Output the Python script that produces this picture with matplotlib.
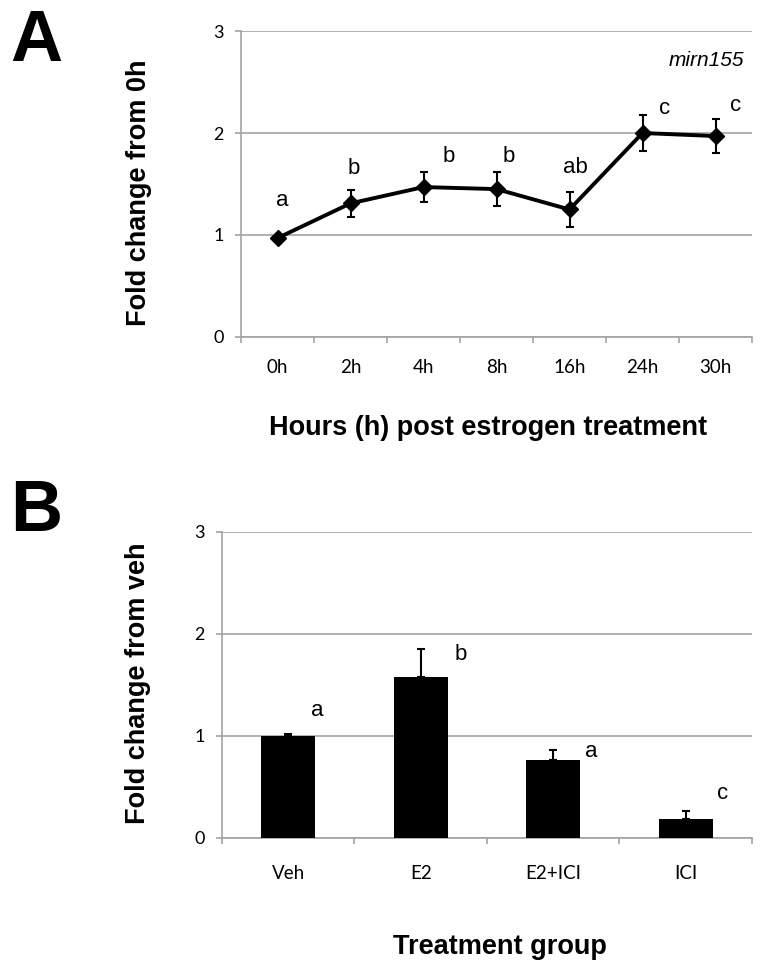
import numpy as np
import matplotlib
matplotlib.use("Agg")
import matplotlib.pyplot as plt

# panel A: time course
hours = ["0h", "2h", "4h", "8h", "16h", "24h", "30h"]
fold_a = [0.97, 1.31, 1.47, 1.45, 1.25, 2.00, 1.97]
err_a = [0.03, 0.13, 0.15, 0.17, 0.17, 0.18, 0.17]
sig_a = ["a", "b", "b", "b", "ab", "c", "c"]
sig_a_x = [0.06, 0.05, 0.35, 0.17, 0.08, 0.30, 0.27]
sig_a_y = [1.34, 1.65, 1.77, 1.77, 1.66, 2.24, 2.27]

# panel B: treatment groups
groups = ["Veh", "E2", "E2+ICI", "ICI"]
fold_b = [1.00, 1.58, 0.76, 0.19]
err_b = [0.02, 0.27, 0.10, 0.07]
sig_b = ["a", "b", "a", "c"]
sig_b_x = [0.22, 0.30, 0.29, 0.28]
sig_b_y = [1.25, 1.80, 0.85, 0.44]

grey = "#a3a3a3"
tick_font = "Lato"
bold_font = "Liberation Sans"

fig = plt.figure(figsize=(7.62, 9.72), dpi=100)


def style_axes(ax, labels, pad):
    n = len(labels)
    ax.set_xlim(-0.5, n - 0.5)
    ax.set_ylim(0, 3)
    ax.set_yticks([0, 1, 2, 3])
    ax.set_yticklabels(["0", "1", "2", "3"], fontfamily=tick_font, fontsize=13)
    ax.yaxis.grid(True, color=grey, linewidth=1.2)
    ax.set_axisbelow(True)
    ax.set_xticks(np.arange(n + 1) - 0.5)
    ax.set_xticklabels([""] * (n + 1))
    ax.set_xticks(np.arange(n), minor=True)
    ax.set_xticklabels(labels, minor=True, fontfamily=tick_font, fontsize=13.5)
    ax.tick_params(axis="x", which="minor", length=0, pad=pad)
    ax.tick_params(axis="both", which="major", length=4.5, color=grey, width=1.2)
    ax.tick_params(axis="y", pad=8)
    for side in ["top", "right"]:
        ax.spines[side].set_visible(False)
    for side in ["left", "bottom"]:
        ax.spines[side].set_color(grey)
        ax.spines[side].set_linewidth(1.2)


# ---- A ----
ax1 = fig.add_axes([0.3163, 0.6533, 0.6706, 0.3148])
style_axes(ax1, hours, 16)
x = np.arange(len(hours))
ax1.errorbar(x, fold_a, yerr=err_a, color="black", linewidth=2.8, marker="D",
             markersize=8, capsize=3, elinewidth=1.5, capthick=1.5, zorder=3)
for i, s in enumerate(sig_a):
    ax1.text(x[i] + sig_a_x[i], sig_a_y[i], s, fontfamily=bold_font, fontsize=16,
             ha="center", va="center")
ax1.text(0.985, 0.905, "mirn155", transform=ax1.transAxes, fontfamily=bold_font,
         fontstyle="italic", fontsize=15, ha="right", va="center")
ax1.set_ylabel("Fold change from 0h", fontfamily=bold_font, fontweight="bold",
               fontsize=19.5, va="center")
ax1.yaxis.set_label_coords(-0.2, 0.47)
ax1.set_xlabel("Hours (h) post estrogen treatment", fontfamily=bold_font,
               fontweight="bold", fontsize=19.5, va="baseline")
ax1.xaxis.set_label_coords(0.484, -0.321)
fig.text(0.048, 0.957, "A", fontfamily=bold_font, fontweight="bold", fontsize=52,
         ha="center", va="center")

# ---- B ----
ax2 = fig.add_axes([0.2913, 0.1379, 0.6955, 0.3148])
style_axes(ax2, groups, 19.5)
xb = np.arange(len(groups))
ax2.bar(xb, fold_b, width=0.41, color="black", zorder=3)
ax2.errorbar(xb, fold_b, yerr=[np.zeros(len(err_b)), err_b], fmt="none",
             ecolor="black", elinewidth=1.5, capsize=3, capthick=1.5, zorder=4)
for i, s in enumerate(sig_b):
    ax2.text(xb[i] + sig_b_x[i], sig_b_y[i], s, fontfamily=bold_font, fontsize=16,
             ha="center", va="center")
ax2.set_ylabel("Fold change from veh", fontfamily=bold_font, fontweight="bold",
               fontsize=19.5, va="center")
ax2.yaxis.set_label_coords(-0.159, 0.507)
ax2.set_xlabel("Treatment group", fontfamily=bold_font, fontweight="bold",
               fontsize=19.5, va="baseline")
ax2.xaxis.set_label_coords(0.525, -0.379)
fig.text(0.048, 0.473, "B", fontfamily=bold_font, fontweight="bold", fontsize=52,
         ha="center", va="center")

fig.savefig("out.png", dpi=100)
